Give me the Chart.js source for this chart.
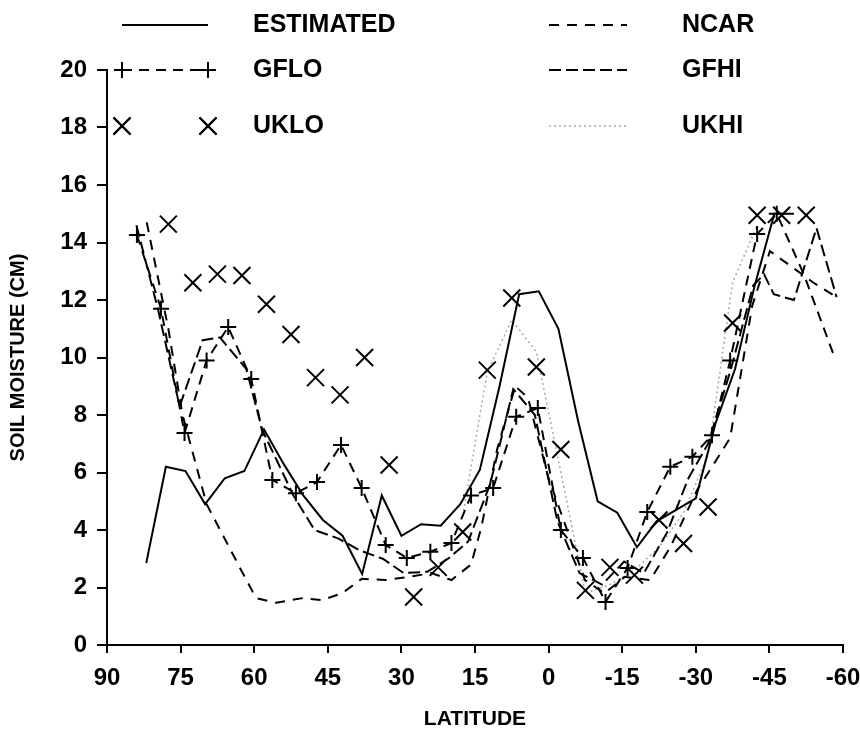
<!DOCTYPE html>
<html>
<head>
<meta charset="utf-8">
<script src="https://cdn.jsdelivr.net/npm/chart.js@4.4.0/dist/chart.umd.min.js"></script>
<style>
  html, body { margin: 0; padding: 0; background: #fff; }
</style>
</head>
<body>
<canvas id="soilChart" width="860" height="733"></canvas>
<script>
// latitude grids (each model has its own)
const latEst = [82, 78, 74, 70, 66, 62, 58, 54, 50, 46, 42, 38, 34, 30, 26, 22, 18, 14, 10, 6, 2, -2, -6, -10, -14, -18, -22, -26, -30, -34, -38, -42, -46, -50];
const estimated = [2.85, 6.2, 6.05, 4.9, 5.8, 6.05, 7.5, 6.3, 5.2, 4.35, 3.8, 2.47, 5.2, 3.8, 4.2, 4.15, 4.9, 6.1, 9.0, 12.2, 12.3, 11.0, 7.8, 5.0, 4.6, 3.4, 4.3, 4.7, 5.1, 7.7, 9.6, 12.5, 15.0, 15.0];

const latNcar = [81.9, 77.5, 74.6, 69.7, 65.1, 61.6, 59.6, 55.5, 50.2, 46.2, 42.1, 38.1, 33.2, 28.5, 23.9, 19.8, 15.8, 13.7, 10.5, 6.8, 4.2, 0.1, -4.5, -7.4, -11.4, -15.5, -20.7, -24.8, -30.3, -33.7, -37.0, -41.5, -45.1, -50.0, -54.0, -58.7];
const ncar = [14.7, 11.0, 8.0, 4.9, 3.4, 2.26, 1.63, 1.47, 1.63, 1.56, 1.8, 2.3, 2.26, 2.37, 2.5, 2.26, 2.8, 4.1, 6.8, 9.0, 8.6, 5.85, 3.65, 2.26, 1.8, 2.37, 2.26, 3.4, 5.4, 6.3, 7.2, 11.8, 13.7, 13.1, 12.6, 12.1];

// GFLO markers stop at the 15 cm peak; the tail beyond is drawn as plain dashes
const latGflo = [83.9, 79.0, 74.2, 69.7, 65.3, 60.6, 56.3, 51.5, 47.2, 42.3, 38.1, 33.2, 28.9, 24.1, 19.8, 15.8, 11.3, 6.6, 2.2, -2.5, -7.0, -11.6, -16.1, -20.1, -24.8, -29.3, -33.3, -37.0, -42.5, -46.5, -52.0, -58.3];
const gflo = [14.26, 11.7, 7.37, 9.9, 11.06, 9.25, 5.74, 5.28, 5.67, 6.96, 5.46, 3.48, 3.03, 3.24, 3.55, 5.2, 5.46, 7.94, 8.24, 4.0, 3.03, 1.5, 2.68, 4.63, 6.2, 6.55, 7.3, 9.9, 14.3, 15.0, 12.9, 10.0];
const gfloMarked = 30;

const latGfhi = [84.0, 79.5, 75.2, 70.5, 67.0, 61.6, 58.4, 52.0, 47.7, 42.8, 38.6, 33.8, 29.5, 24.7, 20.5, 16.4, 11.9, 7.2, 2.8, -1.8, -6.3, -10.9, -15.4, -19.4, -24.1, -28.5, -32.5, -37.0, -41.7, -43.9, -45.9, -50.0, -54.6, -58.7];
const gfhi = [14.6, 11.6, 8.3, 10.6, 10.7, 9.6, 7.5, 5.2, 4.0, 3.7, 3.3, 3.0, 2.5, 2.55, 3.0, 3.6, 5.6, 8.9, 8.0, 4.3, 2.5, 2.1, 2.9, 2.5, 3.9, 5.8, 7.0, 9.5, 12.5, 12.9, 12.2, 12.0, 14.5, 12.1];

const latUk = [77.5, 72.5, 67.5, 62.5, 57.5, 52.5, 47.5, 42.5, 37.5, 32.5, 27.5, 22.5, 17.5, 12.5, 7.5, 2.5, -2.5, -7.5, -12.5, -17.5, -22.5, -27.5, -32.5, -37.5, -42.5, -47.5, -52.5];
const uklo = [14.64, 12.6, 12.9, 12.85, 11.85, 10.8, 9.3, 8.7, 10.0, 6.26, 1.67, 2.7, 3.93, 9.56, 12.07, 9.67, 6.8, 1.9, 2.7, 2.43, 4.35, 3.53, 4.8, 11.2, 14.95, 14.95, 14.95];

const latUkhi = [17.5, 12.5, 7.5, 2.5, -2.5, -7.5, -12.5, -17.5, -22.5, -27.5, -32.5, -37.5, -42.5];
const ukhi = [4.5, 9.5, 11.3, 10.2, 6.0, 1.8, 2.1, 2.6, 3.4, 4.6, 6.6, 12.6, 14.6];

const xTicks = [90, 75, 60, 45, 30, 15, 0, -15, -30, -45, -60];

const pts = (xs, ys) => xs.map((x, i) => ({ x: x, y: ys[i] }));

const ink = '#000000';
const font = '"Liberation Sans", Arial, sans-serif';

// legend drawn in two columns above the plot, like the original figure
const legendBox = {
    id: 'legendBox',
    afterDraw(chart) {
        const ctx = chart.ctx;
        ctx.save();
        chart.data.datasets.forEach((ds, i) => {
            const col = i % 2;
            const row = Math.floor(i / 2);
            const x0 = col ? 549 : 122;
            const x1 = col ? 627 : 208;
            const y = [25, 70, 126][row];
            ctx.strokeStyle = ds.borderColor;
            ctx.lineWidth = ds.borderWidth;
            if (ds.showLine) {
                ctx.setLineDash(ds.borderDash || []);
                ctx.beginPath();
                ctx.moveTo(x0, y);
                ctx.lineTo(x1, y);
                ctx.stroke();
                ctx.setLineDash([]);
            }
            if (ds.legendMark) {
                [x0, x1].forEach(px => {
                    Chart.helpers.drawPoint(ctx, {
                        pointStyle: ds.pointStyle,
                        radius: ds.legendMark,
                        borderWidth: ds.pointBorderWidth
                    }, px, y);
                    ctx.stroke();
                });
            }
            ctx.fillStyle = ink;
            ctx.font = 'bold 25px ' + font;
            ctx.textBaseline = 'middle';
            ctx.fillText(ds.label, col ? 682 : 253, y);
        });
        ctx.restore();
    }
};

new Chart(document.getElementById('soilChart'), {
    type: 'scatter',
    data: {
        datasets: [
            {
                label: 'ESTIMATED',
                data: pts(latEst, estimated),
                showLine: true,
                borderColor: ink,
                borderWidth: 2,
                pointRadius: 0
            },
            {
                label: 'NCAR',
                data: pts(latNcar, ncar),
                showLine: true,
                borderColor: ink,
                borderWidth: 2,
                borderDash: [10, 8],
                pointRadius: 0
            },
            {
                label: 'GFLO',
                data: pts(latGflo, gflo),
                showLine: true,
                borderColor: ink,
                borderWidth: 2,
                borderDash: [10, 7],
                pointStyle: 'cross',
                pointRadius: gflo.map((v, i) => (i < gfloMarked ? 8 : 0)),
                legendMark: 8,
                pointBorderWidth: 2,
                pointBorderColor: ink
            },
            {
                label: 'GFHI',
                data: pts(latGfhi, gfhi),
                showLine: true,
                borderColor: ink,
                borderWidth: 2,
                borderDash: [12, 5],
                pointRadius: 0
            },
            {
                label: 'UKLO',
                data: pts(latUk, uklo),
                showLine: false,
                borderColor: ink,
                borderWidth: 2,
                pointStyle: 'crossRot',
                pointRadius: 12,
                legendMark: 12,
                pointBorderWidth: 2,
                pointBorderColor: ink
            },
            {
                label: 'UKHI',
                data: pts(latUkhi, ukhi),
                showLine: true,
                borderColor: '#a8a8a8',
                borderWidth: 1.5,
                borderDash: [2, 3],
                pointRadius: 0
            }
        ]
    },
    options: {
        responsive: false,
        animation: false,
        devicePixelRatio: 1,
        layout: { padding: { top: 70, right: 17, left: 0, bottom: 0 } },
        plugins: {
            legend: { display: false },
            tooltip: { enabled: false }
        },
        scales: {
            x: {
                type: 'linear',
                min: -60,
                max: 90,
                reverse: true,
                afterBuildTicks: (scale) => { scale.ticks = xTicks.map(v => ({ value: v })); },
                afterFit: (scale) => {
                    scale.height = 88;
                    scale.paddingRight = 17;
                },
                grid: { drawOnChartArea: false, color: ink, lineWidth: 2, tickLength: 8 },
                border: { color: ink, width: 2 },
                ticks: {
                    color: ink,
                    padding: 11,
                    maxRotation: 0,
                    font: { family: font, size: 24, weight: 'bold' }
                },
                title: {
                    display: true,
                    text: 'LATITUDE',
                    color: ink,
                    padding: { top: 0, bottom: 1 },
                    font: { family: font, size: 21, weight: 'bold' }
                }
            },
            y: {
                min: 0,
                max: 20,
                afterFit: (scale) => { scale.width = 107; },
                grid: { drawOnChartArea: false, color: ink, lineWidth: 2, tickLength: 10 },
                border: { color: ink, width: 2 },
                ticks: {
                    stepSize: 2,
                    color: ink,
                    padding: 10,
                    font: { family: font, size: 24, weight: 'bold' }
                },
                title: {
                    display: true,
                    text: 'SOIL MOISTURE (CM)',
                    color: ink,
                    padding: { top: 6, bottom: 0 },
                    font: { family: font, size: 20, weight: 'bold' }
                }
            }
        }
    },
    plugins: [legendBox]
});
</script>
</body>
</html>
